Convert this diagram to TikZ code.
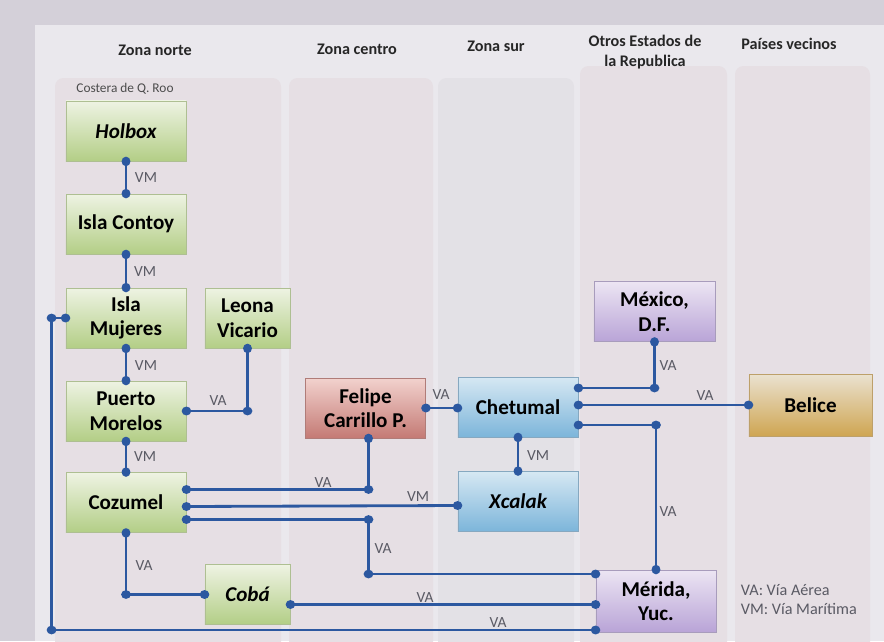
\documentclass[tikz,border=0pt]{standalone}
\usepackage{fontspec}
\setmainfont{Carlito}
\usetikzlibrary{arrows.meta,calc}

\definecolor{marco}{HTML}{D4D0D9}
\definecolor{fondo}{HTML}{EAE8ED}
\definecolor{panelA}{HTML}{E6DFE4}
\definecolor{panelB}{HTML}{E3E1E6}
\definecolor{linea}{HTML}{2C58A0}
\definecolor{etiq}{HTML}{5A5A64}
\definecolor{verdeA}{HTML}{EEF3E3}
\definecolor{verdeB}{HTML}{B3CE86}
\definecolor{verdeC}{HTML}{AEBF92}
\definecolor{rojoA}{HTML}{F2D2CE}
\definecolor{rojoB}{HTML}{C47A74}
\definecolor{rojoC}{HTML}{B07C78}
\definecolor{azulA}{HTML}{D6E8F3}
\definecolor{azulB}{HTML}{7CB5DA}
\definecolor{azulC}{HTML}{86A8C0}
\definecolor{moradoA}{HTML}{ECE5F3}
\definecolor{moradoB}{HTML}{B9A4D7}
\definecolor{moradoC}{HTML}{A89CBC}
\definecolor{oroA}{HTML}{EAE2D0}
\definecolor{oroB}{HTML}{CFA552}
\definecolor{oroC}{HTML}{BDA06A}

\tikzset{
  caja/.style={draw=#1C, line width=0.6pt, top color=#1A, bottom color=#1B,
    minimum width=3cm, minimum height=1.5cm, inner sep=1pt, align=center,
    font=\fontsize{15}{17.5}\selectfont\bfseries},
  cursiva/.style={font=\fontsize{15}{17.5}\selectfont\bfseries\itshape},
  angosta/.style={minimum width=2.125cm},
  via/.style={draw=linea, line width=2pt,
    {Circle[length=6.6pt,width=6.2pt]}-{Circle[length=6.6pt,width=6.2pt]},
    shorten <=-3.3pt, shorten >=-3.3pt},
  rotulo/.style={text=etiq, font=\fontsize{11}{12}\selectfont},
  zona/.style={text=black!85, align=center, font=\fontsize{11.5}{14.2}\selectfont\bfseries},
}
\newcommand{\codo}[1]{\fill[linea] (#1) ellipse (3.5pt and 3.1pt);}

\begin{document}
\begin{tikzpicture}[x=0.025cm, y=-0.025cm]
    \useasboundingbox (0,0) rectangle (884,641);
    % fondo y columnas
    \fill[marco] (0,0) rectangle (884,641);
    \fill[fondo] (35,25) rectangle (884,641);
    \begin{scope}
    \clip (0,0) rectangle (884,641);
    \foreach \xa/\xb/\ya/\col in {55/281/78/panelA, 289/433/78/panelA, 438/574/78/panelB, 580/727/66/panelA, 735/870/66/panelA}
        {\fill[\col, rounded corners=6pt] (\xa,\ya) rectangle (\xb,660);}
    \end{scope}

    % encabezados
    \node[zona] (norte) at (155,50) {Zona norte};
    \node[zona] (centro) at (357,49) {Zona centro};
    \node[zona] (sur) at (496,46) {Zona sur};
    \node[zona] (otros) at (645,52) {Otros Estados de\\la Republica};
    \node[zona] (vecinos) at (789,44) {Países vecinos};
    \node[text=black!70, font=\fontsize{9.5}{10}\selectfont] (costera) at (125,89) {Costera de Q. Roo};

    % lugares
    \node[caja=verde, cursiva] (holbox) at (126,131) {Holbox};
    \node[caja=verde] (contoy) at (126,224) {Isla Contoy};
    \node[caja=verde] (mujeres) at (126,318) {Isla\\Mujeres};
    \node[caja=verde, angosta] (leona) at (247.5,318) {Leona\\Vicario};
    \node[caja=verde] (puerto) at (126,411) {Puerto\\Morelos};
    \node[caja=verde] (cozumel) at (126,502.5) {Cozumel};
    \node[caja=verde, angosta, cursiva] (coba) at (247.5,594.5) {Cobá};
    \node[caja=rojo] (felipe) at (365.5,408) {Felipe\\Carrillo P.};
    \node[caja=azul] (chetumal) at (518,407) {Chetumal};
    \node[caja=azul, cursiva] (xcalak) at (518,501.5) {Xcalak};
    \node[caja=morado, minimum width=3.025cm] (mexico) at (654.5,311.5) {México,\\D.F.};
    \node[caja=oro, minimum width=3.075cm, minimum height=1.55cm] (belice) at (810.5,405) {Belice};
    \node[caja=morado, minimum height=1.55cm] (merida) at (656,601) {Mérida,\\Yuc.};

    % puntos de salida y llegada
    \coordinate (z1) at ($(cozumel.east)+(0,-13)$);
    \coordinate (z2) at ($(cozumel.east)+(0,4)$);
    \coordinate (z3) at ($(cozumel.east)+(0,17)$);
    \coordinate (bajada) at ($(felipe.south)+(3,0)$);
    \coordinate (t1) at ($(chetumal.east)+(0,-19)$);
    \coordinate (t3) at ($(chetumal.east)+(0,18)$);
    \coordinate (m1) at ($(merida.west)+(0,-27)$);
    \coordinate (m3) at ($(merida.west)+(0,29)$);
    \coordinate (b1) at ($(coba.east)+(0,10)$);
    \coordinate (orilla) at ($(mujeres.west)+(-14,0)$);

    % rutas maritimas
    \draw[via] (holbox) -- (contoy);
    \draw[via] (contoy) -- (mujeres);
    \draw[via] (mujeres) -- (puerto);
    \draw[via] (puerto) -- (cozumel);
    \draw[via] (chetumal) -- (xcalak);
    \draw[via] (z2) -- ($(xcalak.west)+(0,4)$);

    % rutas aereas
    \draw[via] (puerto.east) -| (leona.south); \codo{leona.south |- puerto.east}
    \draw[via] (felipe.east) -- (felipe.east -| chetumal.west);
    \draw[via] (t1) -| (mexico.south); \codo{t1 -| mexico.south}
    \draw[via] (chetumal.east |- belice.west) -- (belice.west);
    \draw[via] (t3) -| (merida.north); \codo{t3 -| merida.north}
    \draw[via] (z1) -| (bajada); \codo{z1 -| bajada}
    \draw[via] (z3) -| (bajada |- m1) -- (m1); \codo{z3 -| bajada} \codo{bajada |- m1}
    \draw[via] (cozumel.south) |- (coba.west); \codo{cozumel.south |- coba.west}
    \draw[via] (b1) -- (b1 -| merida.west);
    \draw[via] (mujeres.west) -- (orilla) |- (m3); \codo{orilla} \codo{orilla |- m3}

    % rotulos
    \foreach \x/\y/\t [count=\i] in {146/178/VM, 145/272/VM, 146/366/VM, 145/457/VM, 538/456/VM, 418/497/VM}
        {\node[rotulo] (vm\i) at (\x,\y) {\t};}
    \foreach \x/\y [count=\i] in {218/401, 441/395, 668/366, 705/396, 668/512, 323/483, 383/549, 144/566, 425/598, 498/623}
        {\node[rotulo] (va\i) at (\x,\y) {VA};}

    \node[text=etiq, align=left, anchor=west, font=\fontsize{11.5}{13.5}\selectfont] (leyenda) at (736,599.5) {VA: Vía Aérea\\VM: Vía Marítima};
\end{tikzpicture}
\end{document}
